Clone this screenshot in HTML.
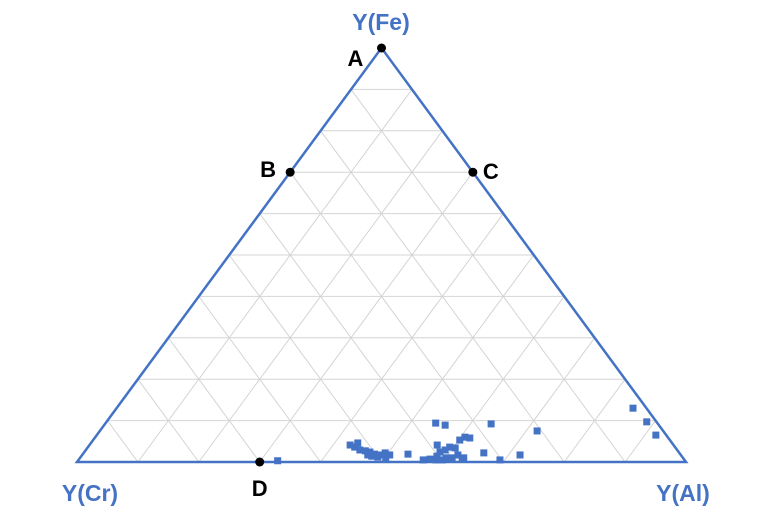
<!DOCTYPE html>
<html><head><meta charset="utf-8"><style>
html,body{margin:0;padding:0;background:#fff;}
svg{display:block;font-family:"Liberation Sans",sans-serif;}
</style></head><body>
<svg id="chart" width="774" height="522">
<g id="grid"></g>
<polygon id="frame" fill="none" stroke="#4472C4" stroke-width="2.5"/>
<g id="pts"></g>
<g id="marks"></g>
<text x="381" y="30" text-anchor="middle" font-size="23" font-weight="bold" fill="#4472C4">Y(Fe)</text>
<text x="90" y="501" text-anchor="middle" font-size="23" font-weight="bold" fill="#4472C4">Y(Cr)</text>
<text x="683" y="501" text-anchor="middle" font-size="23" font-weight="bold" fill="#4472C4">Y(Al)</text>
</svg>
<script>
const feVals=[4.1,3.6,4.6,2.9,2.7,2.4,1.9,1.7,2.2,1.7,1.4,1.2,1.7,1.0,1.9,0.5,0.7,1.4,9.4,8.9,4.1,2.4,2.9,3.6,3.4,5.3,6.0,5.8,1.7,0.7,1.0,1.0,0.5,0.5,1.0,2.2,0.5,1.7,9.2,7.5,0.3,13.0,9.7,6.5];
const alVals=[42.8,43.8,43.8,45.0,46.0,46.9,47.9,48.9,49.5,50.5,47.7,48.8,46.9,50.2,53.4,56.6,57.6,58.4,54.2,56.0,57.1,58.4,59.0,59.4,60.4,60.2,60.7,61.6,61.7,62.9,60.1,61.1,58.7,59.7,63.0,65.7,69.2,71.9,63.4,71.8,32.8,84.8,88.7,91.8];
const refNames=["A","B","C","D"];
const refFe=[100,70,70,0];
const refAl=[0,0,30,30];
const NS="http://www.w3.org/2000/svg";
const L=77,R=686,B=462,H=414,W=R-L;
function px(al,fe){return [L+W*(al/100+fe/200), B-H*fe/100];}
const frame=document.getElementById('frame');
const a=px(0,100),c=px(0,0),d=px(100,0);
frame.setAttribute('points',`${a} ${c} ${d}`);
const grid=document.getElementById('grid');
function line(p,q){const l=document.createElementNS(NS,'line');
l.setAttribute('x1',p[0]);l.setAttribute('y1',p[1]);l.setAttribute('x2',q[0]);l.setAttribute('y2',q[1]);
l.setAttribute('stroke','#d4d4d4');l.setAttribute('stroke-width','1');


grid.appendChild(l);}
for(let k=10;k<100;k+=10){
 line(px(0,k),px(100-k,k));
 line(px(k,0),px(k,100-k));
 line(px(0,100-k),px(100-k,0));
}
const pts=document.getElementById('pts');
for(let i=0;i<feVals.length;i++){const p=px(alVals[i],feVals[i]);
 const r=document.createElementNS(NS,'rect');
 r.setAttribute('x',p[0]-3.5);r.setAttribute('y',p[1]-3.5);r.setAttribute('width',7);r.setAttribute('height',7);
 r.setAttribute('fill','#4472C4');
 
 
 pts.appendChild(r);}
const marks=document.getElementById('marks');
const off={A:[-34,18],B:[-30,5],C:[10,7],D:[-8,34]};
for(let i=0;i<refNames.length;i++){const p=px(refAl[i],refFe[i]);
 const c=document.createElementNS(NS,'circle');
 c.setAttribute('cx',p[0]);c.setAttribute('cy',p[1]);c.setAttribute('r',4.5);c.setAttribute('fill','#000');
 
 
 marks.appendChild(c);
 const t=document.createElementNS(NS,'text');
 t.setAttribute('x',p[0]+off[refNames[i]][0]);t.setAttribute('y',p[1]+off[refNames[i]][1]);
 t.setAttribute('font-size','22');t.setAttribute('font-weight','bold');t.setAttribute('fill','#000');
 t.textContent=refNames[i];
 
 
 marks.appendChild(t);}
</script>
</body></html>
